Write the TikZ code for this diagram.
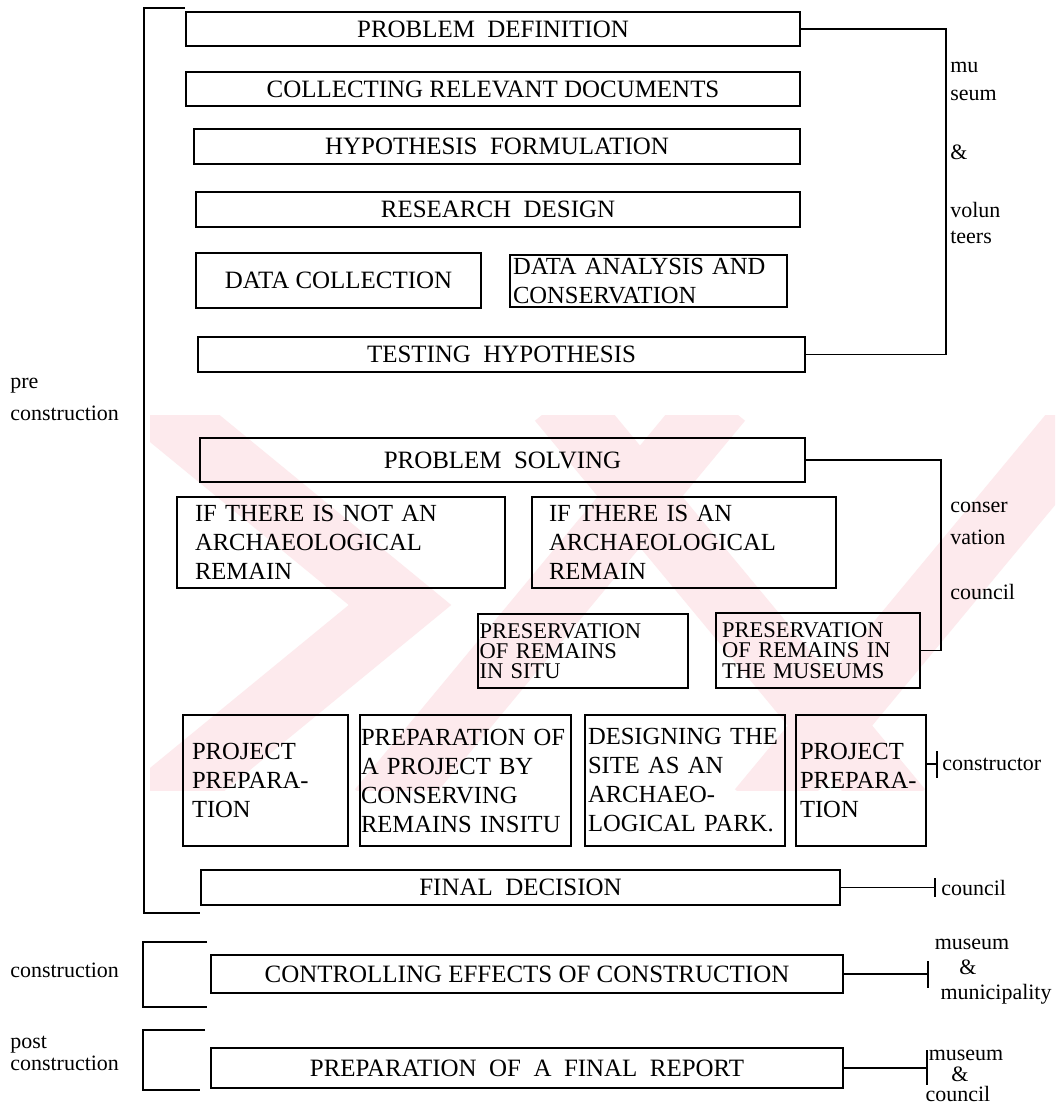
\documentclass[tikz,border=0pt]{standalone}
\usepackage{fontspec}
\setmainfont{Liberation Serif}
\usetikzlibrary{calc}

\definecolor{wmpink}{RGB}{253,234,237}

\tikzset{
    stage/.style={draw=black, line width=1.1pt, rectangle, inner sep=0pt, align=center, font=\fontsize{14.2}{17}\selectfont},
    stagetext/.style={stage, align=left, font=\fontsize{14}{16.5}\selectfont},
    keep/.style={stage, align=left, font=\fontsize{12.8}{11.5}\selectfont},
    link/.style={line width=1.1pt, black, -},
    bracket/.style={line width=1.1pt, black},
    side/.style={font=\fontsize{12.5}{14}\selectfont, inner sep=0pt},
    wmband/.style={wmpink, line width=1.3cm, line join=miter}
}

\begin{document}
\begin{tikzpicture}[x=0.02cm, y=-0.02cm]
    \fill[white] (0,0) rectangle (1055,1115);
    \useasboundingbox (0,0) rectangle (1055,1115);

    % watermark
    \begin{scope}
        \clip (150,415) rectangle (1055,790);
        \draw[wmband] (150,400) -- (400,605) -- (150,810);
        \draw[wmband] (380,810) -- (720,400);
        \draw[wmband] (560,400) -- (900,810);
        \draw[wmband] (760,810) -- (1100,400);
    \end{scope}

    % stages
    \node[stage, minimum width=12.28cm, minimum height=0.68cm] (definition) at (493,29) {PROBLEM\ \ DEFINITION};
    \node[stage, minimum width=12.28cm, minimum height=0.68cm] (documents) at (493,89) {COLLECTING RELEVANT DOCUMENTS};
    \node[stage, minimum width=12.12cm, minimum height=0.70cm] (hypothesis) at (497,146.5) {HYPOTHESIS\ \ FORMULATION};
    \node[stage, minimum width=12.08cm, minimum height=0.70cm] (design) at (498,209.5) {RESEARCH\ \ DESIGN};
    \node[stage, minimum width=5.70cm, minimum height=1.10cm] (collection) at (338.5,280.5) {DATA COLLECTION};
    \node[stagetext, text width=5.42cm, inner xsep=0.06cm, minimum height=1.04cm] (analysis) at (648.5,281) {DATA ANALYSIS AND\\CONSERVATION};
    \node[stage, minimum width=12.14cm, minimum height=0.70cm] (testing) at (501.5,354.5) {TESTING\ \ HYPOTHESIS};

    \node[stage, minimum width=12.10cm, minimum height=0.88cm] (solving) at (502.5,460) {PROBLEM\ \ SOLVING};
    \node[stagetext, text width=5.84cm, inner xsep=0.36cm, minimum height=1.82cm] (noremain) at (341,542.5) {IF THERE IS NOT AN\\ARCHAEOLOGICAL\\REMAIN};
    \node[stagetext, text width=5.40cm, inner xsep=0.34cm, minimum height=1.82cm] (remain) at (684,542.5) {IF THERE IS AN\\ARCHAEOLOGICAL\\REMAIN};
    \node[keep, text width=4.14cm, inner xsep=0.03cm, minimum height=1.48cm] (insitu) at (583,651) {PRESERVATION\\OF REMAINS\\IN SITU};
    \node[keep, text width=3.84cm, inner xsep=0.12cm, minimum height=1.50cm] (museums) at (818,650.5) {PRESERVATION\\OF REMAINS IN\\THE MUSEUMS};

    \node[stagetext, text width=2.94cm, inner xsep=0.18cm, minimum height=2.62cm] (projecta) at (265.5,780.5) {PROJECT\\PREPARA-\\TION};
    \node[stagetext, text width=4.18cm, inner xsep=0.02cm, minimum height=2.62cm] (conserving) at (465.5,780.5) {PREPARATION OF\\A PROJECT BY\\CONSERVING\\REMAINS INSITU};
    \node[stagetext, text width=3.88cm, inner xsep=0.06cm, minimum height=2.62cm] (park) at (685,780.5) {DESIGNING THE\\SITE AS AN\\ARCHAEO-\\LOGICAL PARK.};
    \node[stagetext, text width=2.44cm, inner xsep=0.08cm, minimum height=2.62cm] (projectb) at (861,780.5) {PROJECT\\PREPARA-\\TION};

    \node[stage, minimum width=12.78cm, minimum height=0.70cm] (decision) at (520.5,887.5) {FINAL\ \ DECISION};
    \node[stage, minimum width=12.64cm, minimum height=0.76cm] (controlling) at (527,974) {CONTROLLING EFFECTS OF CONSTRUCTION};
    \node[stage, minimum width=12.64cm, minimum height=0.80cm] (report) at (527,1068) {PREPARATION\ \ OF\ \ A\ \ FINAL\ \ REPORT};

    % phases
    \draw[bracket] (185,8) -- (144,8) -- (144,913) -- (200,913);
    \draw[bracket] (207,942) -- (143,942) -- (143,1007) -- (207,1007);
    \draw[bracket] (205,1030) -- (143,1030) -- (143,1090) -- (200,1090);
    \node[side, anchor=west] (pre) at (10,386) {pre};
    \node[side, anchor=west] (prec) at (10,413) {construction};
    \node[side, anchor=west] (cons) at (10,970) {construction};
    \node[side, anchor=west] (post) at (10,1045) {post};
    \node[side, anchor=west] (postc) at (10,1063) {construction};

    % actors
    \draw[link] (definition.east) -- ++(145,0) |- (testing.east);
    \node[side, anchor=west] (mu) at (950,67) {mu};
    \node[side, anchor=west] (seum) at (950,95) {seum};
    \node[side, anchor=west] (amp) at (950,152) {\&};
    \node[side, anchor=west] (volun) at (950,210) {volun};
    \node[side, anchor=west] (teers) at (950,237) {teers};

    \draw[link] (solving.east) -- ++(135,0) |- (museums.east);
    \node[side, anchor=west] (conser) at (950,507) {conser};
    \node[side, anchor=west] (vation) at (950,537) {vation};
    \node[side, anchor=west] (councila) at (950,592) {council};

    \coordinate (ctor) at (937,764);
    \draw[link] (projectb.east |- ctor) -- (ctor);
    \draw[bracket] (937,751) -- (937,778);
    \node[side, anchor=west] (constructor) at (942,764) {constructor};

    \coordinate (fdec) at (935,887.5);
    \draw[link] (decision.east) -- (fdec);
    \draw[bracket] (935,878) -- (935,897);
    \node[side, anchor=west] (councilb) at (941,887.5) {council};

    \coordinate (fcon) at (928,974);
    \draw[link] (controlling.east) -- (fcon);
    \draw[bracket] (928,961) -- (928,988);
    \node[side] (museuma) at (972,944) {museum};
    \node[side] (ampa) at (968,967) {\&};
    \node[side] (municipality) at (996,994) {municipality};

    \coordinate (frep) at (927,1068);
    \draw[link] (report.east) -- (frep);
    \draw[bracket] (927,1050) -- (927,1085);
    \node[side] (museumb) at (966,1055) {museum};
    \node[side] (ampb) at (960,1074) {\&};
    \node[side] (councilc) at (958,1094) {council};
\end{tikzpicture}
\end{document}
